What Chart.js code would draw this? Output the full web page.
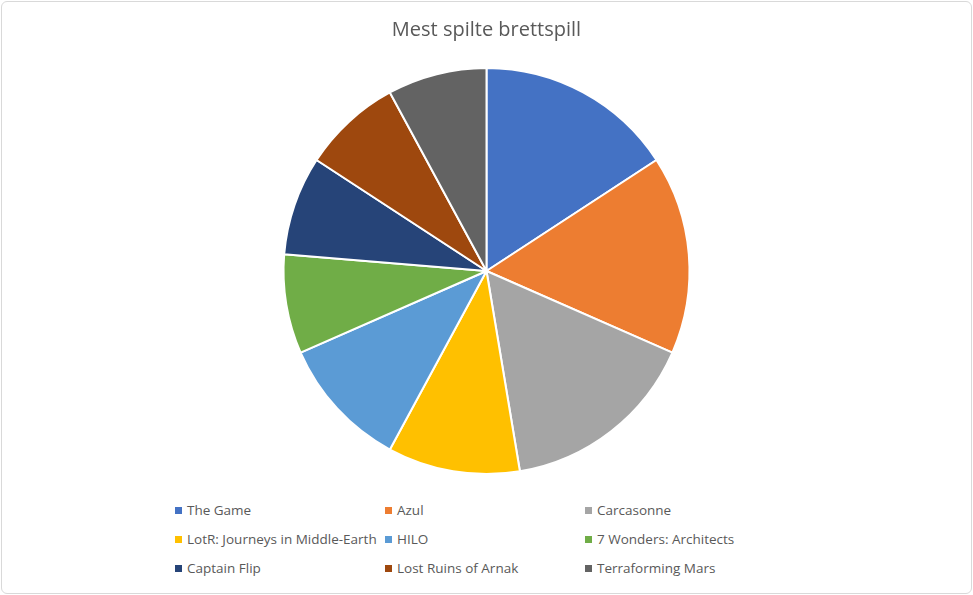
<!DOCTYPE html>
<html>
<head>
<meta charset="utf-8">
<script src="https://cdn.jsdelivr.net/npm/chart.js@4"></script>
<style>
  body { margin: 0; background: #fff; font-family: "Open Sans", "Noto Sans", sans-serif; }
  #frame { position: absolute; left: 1px; top: 1px; width: 969px; height: 591px; border: 1px solid #d9d9d9; border-radius: 6px; }
  #wrap { position: absolute; left: 0; top: 0; width: 973px; height: 480px; }
  #legend { position: absolute; left: 175px; top: 500px; display: grid; grid-template-columns: 210px 200px 200px; row-gap: 9px; font-size: 13.5px; color: #595959; }
  #legend div { display: flex; align-items: center; height: 20px; white-space: nowrap; }
  #legend span.box { width: 7px; height: 7px; margin-right: 5px; display: inline-block; }
</style>
</head>
<body>
<div id="frame"></div>
<div id="wrap"><canvas id="c"></canvas></div>
<div id="legend"></div>
<script>
const games = ['The Game', 'Azul', 'Carcasonne', 'LotR: Journeys in Middle-Earth', 'HILO', '7 Wonders: Architects', 'Captain Flip', 'Lost Ruins of Arnak', 'Terraforming Mars'];
const timesPlayed = [6, 6, 6, 4, 4, 3, 3, 3, 3];
const colors = ['#4472C4', '#ED7D31', '#A5A5A5', '#FFC000', '#5B9BD5', '#70AD47', '#264478', '#9E480E', '#636363'];

new Chart(document.getElementById('c'), {
  type: 'pie',
  data: {
    labels: games,
    datasets: [{ data: timesPlayed, backgroundColor: colors, borderColor: '#fff', borderWidth: 2 }]
  },
  options: {
    responsive: true,
    maintainAspectRatio: false,
    animation: false,
    layout: { padding: { bottom: 5 } },
    plugins: {
      legend: { display: false },
      tooltip: { enabled: false },
      title: {
        display: true,
        text: 'Mest spilte brettspill',
        color: '#595959',
        font: { family: '"Open Sans", "Noto Sans", sans-serif', size: 20, weight: 'normal' },
        padding: { top: 18, bottom: 25 }
      }
    }
  }
});

const legend = document.getElementById('legend');
games.forEach((g, i) => {
  const d = document.createElement('div');
  d.innerHTML = '<span class="box" style="background:' + colors[i] + '"></span>' + g;
  legend.appendChild(d);
});
</script>
</body>
</html>
